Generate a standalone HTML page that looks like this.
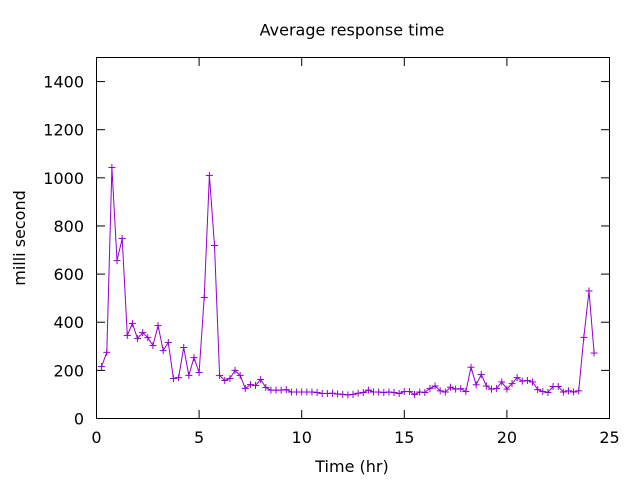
<!DOCTYPE html>
<html><head><meta charset="utf-8"><style>
html,body{margin:0;padding:0;background:#fff;width:640px;height:480px;overflow:hidden}
text{font-family:"DejaVu Sans","Liberation Sans",sans-serif;font-size:16px;fill:#000}
</style></head><body>
<svg id="s" width="640" height="480" xmlns="http://www.w3.org/2000/svg">
<rect x="96.5" y="57.5" width="513" height="361" fill="none" stroke="#000" stroke-width="1"/>
<text x="352" y="35.5" text-anchor="middle">Average response time</text>
<text x="352" y="472" text-anchor="middle">Time (hr)</text>
<text transform="translate(25,238) rotate(-90)" text-anchor="middle">milli second</text>
<g id="ax"></g>
<polyline id="pl" fill="none" stroke="#9400d3" stroke-width="1"/>
<g id="mk" stroke="#9400d3" stroke-width="1"></g>
</svg>
<script>
var X0=96.5,XS=20.52,Y0=418.5,YS=361/1500;
var ax=document.getElementById('ax'),h='';
for(var v=0;v<=1400;v+=200){var y=Y0-v*YS;h+='<line x1="96.5" x2="105" y1="'+y+'" y2="'+y+'" stroke="#000"/><line x1="601" x2="609.5" y1="'+y+'" y2="'+y+'" stroke="#000"/><text x="84" y="'+(y+6)+'" text-anchor="end">'+v+'</text>';}
for(var t=0;t<=25;t+=5){var x=X0+t*XS;h+='<line x1="'+x+'" x2="'+x+'" y1="418.5" y2="410" stroke="#000"/><line x1="'+x+'" x2="'+x+'" y1="57.5" y2="66" stroke="#000"/><text x="'+x+'" y="443" text-anchor="middle">'+t+'</text>';}
ax.innerHTML=h;
var d=[216,275,1043,656,748,345,395,332,357,336,303,386,282,316,166,170,295,179,253,191,503,1010,719,179,158,166,200,179,125,141,137,162,129,
118,118,118,120,110,110,110,110,110,108,104,104,105,102,100,98,100,105,108,118,110,110,108,110,108,104,112,112,100,110,108,
125,135,115,110,130,122,124,112,213,140,183,135,122,125,152,122,145,170,155,158,152,120,112,108,133,133,110,115,110,115,337,530,272];
var pts=[],m='';
for(var i=0;i<d.length;i++){var x=X0+(0.25*(i+1))*XS,y=Y0-d[i]*YS;pts.push(x.toFixed(1)+','+y.toFixed(1));
m+='<line x1="'+(x-3.5)+'" x2="'+(x+3.5)+'" y1="'+y+'" y2="'+y+'"/><line x1="'+x+'" x2="'+x+'" y1="'+(y-3.5)+'" y2="'+(y+3.5)+'"/>';}
document.getElementById('pl').setAttribute('points',pts.join(' '));
document.getElementById('mk').innerHTML=m;
</script>
</body></html>
